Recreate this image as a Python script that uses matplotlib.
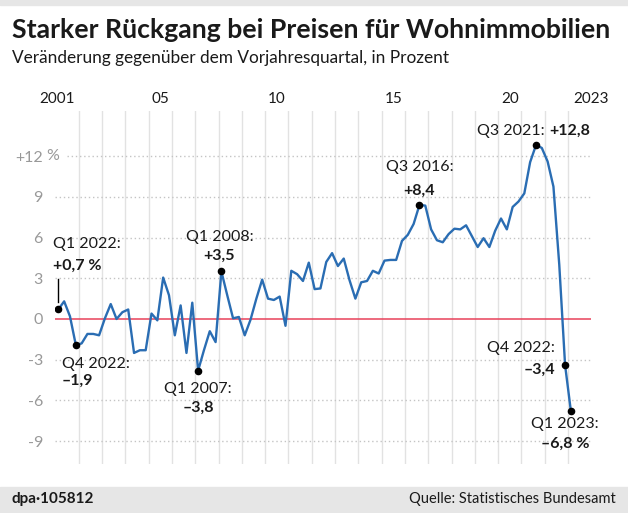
import numpy as np
import matplotlib
matplotlib.use("Agg")
import matplotlib.pyplot as plt
from matplotlib.patches import Rectangle


# -----------------------------
# Data (year-on-year change, quarterly, 2001 Q1 - 2023 Q1)
# -----------------------------

start_year = 2001

change = [
    0.7, 1.3, 0.2, -1.9,      # 2001
    -1.8, -1.1, -1.1, -1.2,   # 2002
    0.05, 1.1, 0.0, 0.5,      # 2003
    0.7, -2.5, -2.3, -2.3,    # 2004
    0.4, -0.1, 3.05, 1.75,    # 2005
    -1.2, 1.0, -2.5, 1.2,     # 2006
    -3.8, -2.3, -0.9, -1.7,   # 2007
    3.5, 1.75, 0.05, 0.15,    # 2008
    -1.2, -0.05, 1.5, 2.9,    # 2009
    1.5, 1.4, 1.65, -0.5,     # 2010
    3.55, 3.3, 2.8, 4.15,     # 2011
    2.2, 2.25, 4.2, 4.85,     # 2012
    3.9, 4.45, 2.85, 1.5,     # 2013
    2.7, 2.8, 3.55, 3.35,     # 2014
    4.3, 4.35, 4.35, 5.75,    # 2015
    6.2, 7.0, 8.4, 8.35,      # 2016
    6.6, 5.8, 5.65, 6.25,     # 2017
    6.65, 6.6, 6.9, 6.1,      # 2018
    5.3, 5.95, 5.3, 6.5,      # 2019
    7.4, 6.6, 8.25, 8.65,     # 2020
    9.25, 11.55, 12.8, 12.6,  # 2021
    11.6, 9.75, 4.0, -3.4,    # 2022
    -6.8,                     # 2023
]

x_tick_pos = [2001.07, 2005.5, 2010.5, 2015.5, 2020.5, 2023.97]
x_tick_labels = ["2001", "05", "10", "15", "20", "2023"]

y_ticks = [12, 9, 6, 3, 0, -3, -6, -9]
y_tick_labels = ["+12", "9", "6", "3", "0", "-3", "-6", "-9"]

# highlighted points: index, label line 1, label line 2
marked = [
    (0, "Q1 2022:", "+0,7 %"),
    (3, "Q4 2022:", "\u20131,9"),
    (24, "Q1 2007:", "\u20133,8"),
    (28, "Q1 2008:", "+3,5"),
    (62, "Q3 2016:", "+8,4"),
    (82, "Q3 2021:", "+12,8"),
    (87, "Q4 2022:", "\u20133,4"),
    (88, "Q1 2023:", "\u20136,8 %"),
]

years = start_year + (np.arange(len(change)) + 0.5) / 4.0
values = np.array(change)


# -----------------------------
# Layout
# -----------------------------

W, H = 628, 513
plt.rcParams["font.family"] = ["Lato", "DejaVu Sans"]

fig = plt.figure(figsize=(W / 100, H / 100), dpi=100)

# axes: x 2001..2024 -> px 55.4..591.3 ; y px 111..464
ax = fig.add_axes([55.4 / W, 1 - 464 / H, 535.9 / W, 353 / H])
ax.set_xlim(2001, 2024)
ax.set_ylim((319 - 464) / 13.58, (319 - 111) / 13.58)
for s in ax.spines.values():
    s.set_visible(False)
ax.patch.set_alpha(0)


def px(x, y):
    return x / W, 1 - y / H


# background strips
fig.patches.append(Rectangle((0, 1 - 5 / H), 1, 5 / H, transform=fig.transFigure,
                             color="#e6e6e6", zorder=0))
fig.patches.append(Rectangle((0, 0), 1, 26 / H, transform=fig.transFigure,
                             color="#e6e6e6", zorder=0))


# -----------------------------
# Grid
# -----------------------------

for yr in range(2002, 2024):
    ax.axvline(yr, color="#e2e2e2", lw=1, zorder=1)

for yv in y_ticks:
    if yv == 0:
        continue
    x0 = 2001.5 if yv == 12 else 2001
    ax.hlines(yv, x0, 2024, colors="#c4c4c4", lw=1,
              linestyles=(0, (1, 2)), zorder=1)

ax.hlines(0, 2001, 2024, colors="#e8415a", lw=1.1, zorder=2)


# -----------------------------
# Ticks
# -----------------------------

ax.xaxis.tick_top()
ax.set_xticks(x_tick_pos)
ax.set_xticklabels(x_tick_labels)
ax.tick_params(axis="x", length=0, pad=3.5, labelsize=11, colors="#1a1a1a")

ax.set_yticks(y_ticks)
ax.set_yticklabels(y_tick_labels)
ax.tick_params(axis="y", length=0, pad=9, labelsize=11.5, colors="#999999")

ax.annotate("%", xy=(0, 12), xycoords=("axes fraction", "data"),
            xytext=(-6.5, 0), textcoords="offset points",
            ha="left", va="center", fontsize=11.5, color="#999999")


# -----------------------------
# Line and markers
# -----------------------------

ax.plot(years, values, color="#2a6db3", lw=1.7, zorder=3,
        solid_joinstyle="round")

idx = [m[0] for m in marked]
ax.scatter(years[idx], values[idx], s=20, color="black", zorder=4)

# label offsets in points: (dx1, dy1, ha1, dx2, dy2, ha2)
offsets = [
    (-3.8, 47.5, "left", -3.8, 31.3, "left"),
    (-9.9, -13.5, "left", -9.9, -26, "left"),
    (0, -13, "center", 0, -27, "center"),
    (-1.4, 24.5, "center", -1.4, 11.2, "center"),
    (0, 27.4, "center", 0, 10, "center"),
    (6.5, 10, "right", 9.4, 10, "left"),
    (-7.2, 12.7, "right", -7.2, -3.5, "right"),
    (-4.3, -8.8, "center", -4.3, -23.5, "center"),
]

for (i, t1, t2), (dx1, dy1, ha1, dx2, dy2, ha2) in zip(marked, offsets):
    ax.annotate(t1, xy=(years[i], values[i]), xytext=(dx1, dy1),
                textcoords="offset points", ha=ha1, va="center",
                fontsize=11.5, color="#1a1a1a", annotation_clip=False)
    ax.annotate(t2, xy=(years[i], values[i]), xytext=(dx2, dy2),
                textcoords="offset points", ha=ha2, va="center",
                fontsize=11.5, fontweight="bold", color="#1a1a1a",
                annotation_clip=False)

# leader line for first point (7..30 px above the dot)
ax.plot([years[0], years[0]], [values[0] + 7.5 / 13.58, values[0] + 30.5 / 13.58],
        color="black", lw=1, zorder=4)


# -----------------------------
# Titles and footer
# -----------------------------

fig.text(*px(12, 38), "Starker Rückgang bei Preisen für Wohnimmobilien",
         fontsize=19.2, fontweight="bold", color="#1a1a1a", va="baseline")
fig.text(*px(12, 63), "Veränderung gegenüber dem Vorjahresquartal, in Prozent",
         fontsize=12.4, color="#1a1a1a", va="baseline")

fig.text(*px(12, 499), "dpa\u00b7105812", fontsize=11, fontweight="bold",
         color="#1a1a1a", va="center")
fig.text(*px(616, 499), "Quelle: Statistisches Bundesamt", fontsize=10.5,
         color="#1a1a1a", va="center", ha="right")

fig.savefig("out.png", dpi=100)
